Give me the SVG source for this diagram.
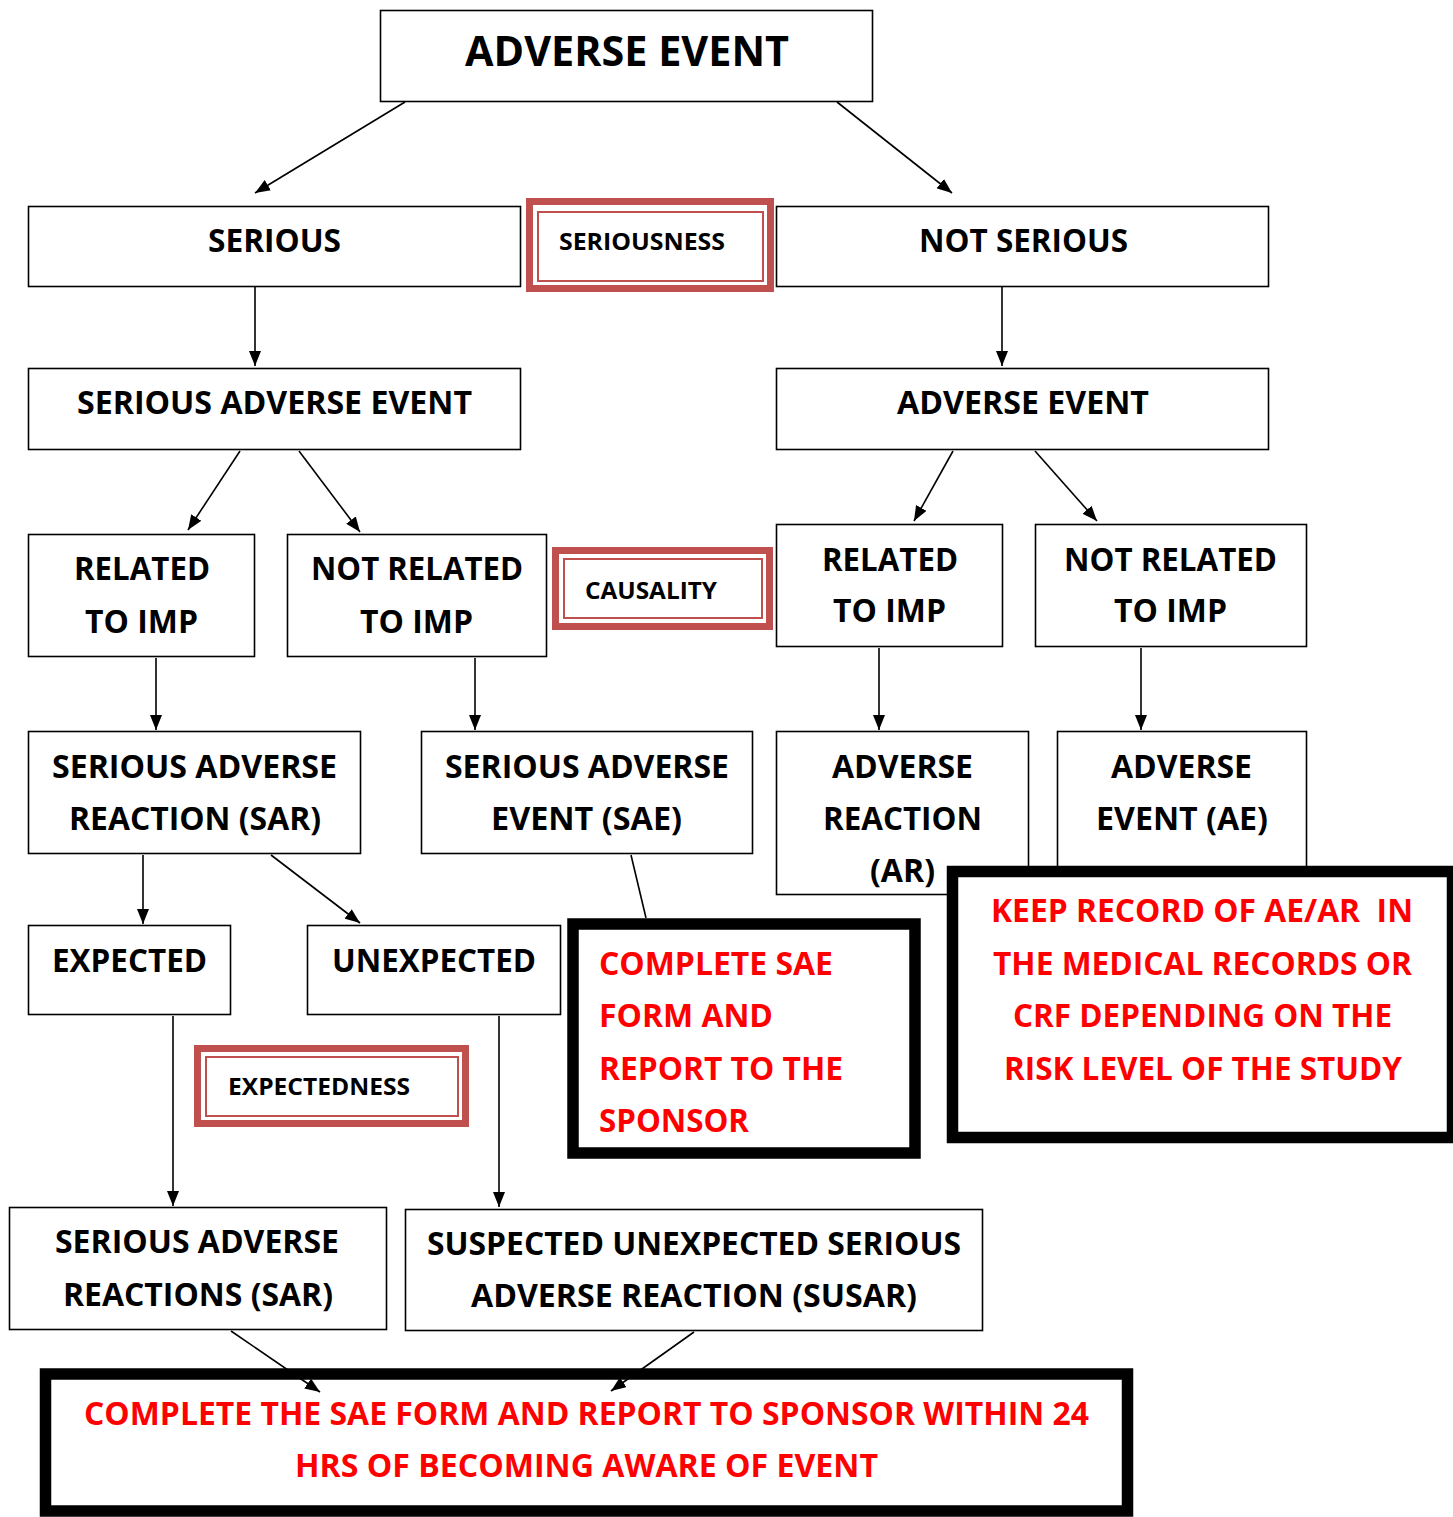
<svg xmlns="http://www.w3.org/2000/svg" width="1453" height="1517" viewBox="0 0 1453 1517">
<style>
.box{fill:#fff;stroke:#000;stroke-width:1.6}
.thick{fill:#fff;stroke:#000;stroke-width:11.5}
.rb{fill:#fff;stroke:#c0504d;stroke-width:7}
.rt{fill:none;stroke:#c0504d;stroke-width:2}
.t{font-family:"Open Sans","Liberation Sans",sans-serif;font-weight:700;font-size:32px;fill:#000}
.s{font-size:24px}
.r{fill:#ff0000}
.c{stroke:#000;stroke-width:1.6;fill:none}
</style>
<defs>
<marker id="ah" markerUnits="userSpaceOnUse" markerWidth="15" markerHeight="12" refX="15" refY="6" orient="auto">
<path d="M0,0 L15,6 L0,12 z" fill="#000"/>
</marker>
</defs>
<rect width="1453" height="1517" fill="#fff"/>

<g id="n-top">
<rect class="box" x="380.5" y="10.5" width="492" height="91"/>
<text class="t" x="465" y="66" style="font-size:42px" textLength="324" lengthAdjust="spacingAndGlyphs">ADVERSE EVENT</text>
</g>
<g id="n-serious">
<rect class="box" x="28.5" y="206.5" width="492" height="80"/>
<text class="t" x="208" y="252" textLength="133" lengthAdjust="spacingAndGlyphs">SERIOUS</text>
</g>
<g id="n-seriousness">
<rect class="rb" x="529.5" y="201.5" width="241" height="87"/>
<rect class="rt" x="538" y="212" width="225" height="69"/>
<text class="t s" x="559" y="250" textLength="166" lengthAdjust="spacingAndGlyphs">SERIOUSNESS</text>
</g>
<g id="n-notserious">
<rect class="box" x="776.5" y="206.5" width="492" height="80"/>
<text class="t" x="919" y="252" textLength="209" lengthAdjust="spacingAndGlyphs">NOT SERIOUS</text>
</g>
<g id="n-sae">
<rect class="box" x="28.5" y="368.5" width="492" height="81"/>
<text class="t" x="77" y="414" textLength="395" lengthAdjust="spacingAndGlyphs">SERIOUS ADVERSE EVENT</text>
</g>
<g id="n-ae">
<rect class="box" x="776.5" y="368.5" width="492" height="81"/>
<text class="t" x="897" y="414" textLength="252" lengthAdjust="spacingAndGlyphs">ADVERSE EVENT</text>
</g>
<g id="n-rel-l">
<rect class="box" x="28.5" y="534.5" width="226" height="122"/>
<text class="t" x="74" y="580" textLength="136" lengthAdjust="spacingAndGlyphs">RELATED</text>
<text class="t" x="85" y="633" textLength="113" lengthAdjust="spacingAndGlyphs">TO IMP</text>
</g>
<g id="n-notrel-l">
<rect class="box" x="287.5" y="534.5" width="259" height="122"/>
<text class="t" x="311" y="580" textLength="212" lengthAdjust="spacingAndGlyphs">NOT RELATED</text>
<text class="t" x="360" y="633" textLength="113" lengthAdjust="spacingAndGlyphs">TO IMP</text>
</g>
<g id="n-causality">
<rect class="rb" x="555.5" y="550.5" width="214" height="76"/>
<rect class="rt" x="564" y="559" width="198" height="59"/>
<text class="t s" x="585" y="599" textLength="132" lengthAdjust="spacingAndGlyphs">CAUSALITY</text>
</g>
<g id="n-rel-r">
<rect class="box" x="776.5" y="524.5" width="226" height="122"/>
<text class="t" x="822" y="571" textLength="136" lengthAdjust="spacingAndGlyphs">RELATED</text>
<text class="t" x="833" y="622" textLength="113" lengthAdjust="spacingAndGlyphs">TO IMP</text>
</g>
<g id="n-notrel-r">
<rect class="box" x="1035.5" y="524.5" width="271" height="122"/>
<text class="t" x="1064" y="571" textLength="213" lengthAdjust="spacingAndGlyphs">NOT RELATED</text>
<text class="t" x="1114" y="622" textLength="113" lengthAdjust="spacingAndGlyphs">TO IMP</text>
</g>
<g id="n-sar">
<rect class="box" x="28.5" y="731.5" width="332" height="122"/>
<text class="t" x="52" y="778" textLength="285" lengthAdjust="spacingAndGlyphs">SERIOUS ADVERSE</text>
<text class="t" x="69" y="830" textLength="252" lengthAdjust="spacingAndGlyphs">REACTION (SAR)</text>
</g>
<g id="n-sae2">
<rect class="box" x="421.5" y="731.5" width="331" height="122"/>
<text class="t" x="445" y="778" textLength="284" lengthAdjust="spacingAndGlyphs">SERIOUS ADVERSE</text>
<text class="t" x="491" y="830" textLength="191" lengthAdjust="spacingAndGlyphs">EVENT (SAE)</text>
</g>
<g id="n-ar">
<rect class="box" x="776.5" y="731.5" width="252" height="163"/>
<text class="t" x="832" y="778" textLength="141" lengthAdjust="spacingAndGlyphs">ADVERSE</text>
<text class="t" x="823" y="830" textLength="159" lengthAdjust="spacingAndGlyphs">REACTION</text>
<text class="t" x="870" y="882" textLength="65" lengthAdjust="spacingAndGlyphs">(AR)</text>
</g>
<g id="n-ae2">
<rect class="box" x="1057.5" y="731.5" width="249" height="150"/>
<text class="t" x="1111" y="778" textLength="141" lengthAdjust="spacingAndGlyphs">ADVERSE</text>
<text class="t" x="1096" y="830" textLength="172" lengthAdjust="spacingAndGlyphs">EVENT (AE)</text>
</g>
<g id="n-keep">
<rect class="thick" x="952.5" y="871.5" width="500" height="266"/>
<text class="t r" x="991" y="922" textLength="422" lengthAdjust="spacingAndGlyphs" style="white-space:pre">KEEP RECORD OF AE/AR  IN</text>
<text class="t r" x="993" y="975" textLength="419" lengthAdjust="spacingAndGlyphs">THE MEDICAL RECORDS OR</text>
<text class="t r" x="1013" y="1027" textLength="379" lengthAdjust="spacingAndGlyphs">CRF DEPENDING ON THE</text>
<text class="t r" x="1004" y="1080" textLength="398" lengthAdjust="spacingAndGlyphs">RISK LEVEL OF THE STUDY</text>
</g>
<g id="n-expected">
<rect class="box" x="28.5" y="925.5" width="202" height="89"/>
<text class="t" x="52" y="972" textLength="155" lengthAdjust="spacingAndGlyphs">EXPECTED</text>
</g>
<g id="n-unexpected">
<rect class="box" x="307.5" y="925.5" width="253" height="89"/>
<text class="t" x="332" y="972" textLength="204" lengthAdjust="spacingAndGlyphs">UNEXPECTED</text>
</g>
<g id="n-expectedness">
<rect class="rb" x="197.5" y="1048.5" width="268" height="75"/>
<rect class="rt" x="206" y="1057" width="252" height="59"/>
<text class="t s" x="228" y="1095" textLength="182" lengthAdjust="spacingAndGlyphs">EXPECTEDNESS</text>
</g>
<g id="n-complete-sae">
<rect class="thick" x="573" y="924" width="342" height="229"/>
<text class="t r" x="599" y="975" textLength="234" lengthAdjust="spacingAndGlyphs">COMPLETE SAE</text>
<text class="t r" x="599" y="1027" textLength="174" lengthAdjust="spacingAndGlyphs">FORM AND</text>
<text class="t r" x="599" y="1080" textLength="244" lengthAdjust="spacingAndGlyphs">REPORT TO THE</text>
<text class="t r" x="599" y="1132" textLength="150" lengthAdjust="spacingAndGlyphs">SPONSOR</text>
</g>
<g id="n-sar2">
<rect class="box" x="9.5" y="1207.5" width="377" height="122"/>
<text class="t" x="55" y="1253" textLength="284" lengthAdjust="spacingAndGlyphs">SERIOUS ADVERSE</text>
<text class="t" x="63" y="1306" textLength="270" lengthAdjust="spacingAndGlyphs">REACTIONS (SAR)</text>
</g>
<g id="n-susar">
<rect class="box" x="405.5" y="1209.5" width="577" height="121"/>
<text class="t" x="427" y="1255" textLength="534" lengthAdjust="spacingAndGlyphs">SUSPECTED UNEXPECTED SERIOUS</text>
<text class="t" x="471" y="1307" textLength="446" lengthAdjust="spacingAndGlyphs">ADVERSE REACTION (SUSAR)</text>
</g>
<g id="n-final">
<rect class="thick" x="45.5" y="1374" width="1082" height="137"/>
<text class="t r" x="84" y="1425" textLength="1005" lengthAdjust="spacingAndGlyphs">COMPLETE THE SAE FORM AND REPORT TO SPONSOR WITHIN 24</text>
<text class="t r" x="295" y="1477" textLength="583" lengthAdjust="spacingAndGlyphs">HRS OF BECOMING AWARE OF EVENT</text>
</g>

<g id="connectors">
<line class="c" x1="405" y1="102" x2="255" y2="193" marker-end="url(#ah)"/>
<line class="c" x1="837" y1="102" x2="952" y2="193" marker-end="url(#ah)"/>
<line class="c" x1="255" y1="287" x2="255" y2="366" marker-end="url(#ah)"/>
<line class="c" x1="1002" y1="287" x2="1002" y2="366" marker-end="url(#ah)"/>
<line class="c" x1="240" y1="451" x2="188" y2="530" marker-end="url(#ah)"/>
<line class="c" x1="299" y1="451" x2="360" y2="532" marker-end="url(#ah)"/>
<line class="c" x1="953" y1="451" x2="914" y2="521" marker-end="url(#ah)"/>
<line class="c" x1="1035" y1="451" x2="1097" y2="521" marker-end="url(#ah)"/>
<line class="c" x1="156" y1="658" x2="156" y2="730" marker-end="url(#ah)"/>
<line class="c" x1="475" y1="658" x2="475" y2="730" marker-end="url(#ah)"/>
<line class="c" x1="879" y1="648" x2="879" y2="730" marker-end="url(#ah)"/>
<line class="c" x1="1141" y1="648" x2="1141" y2="730" marker-end="url(#ah)"/>
<line class="c" x1="143" y1="855" x2="143" y2="924" marker-end="url(#ah)"/>
<line class="c" x1="271" y1="855" x2="360" y2="923" marker-end="url(#ah)"/>
<line class="c" x1="631" y1="855" x2="646" y2="918"/>
<line class="c" x1="173" y1="1016" x2="173" y2="1206" marker-end="url(#ah)"/>
<line class="c" x1="499" y1="1016" x2="499" y2="1207" marker-end="url(#ah)"/>
<line class="c" x1="231" y1="1331" x2="320" y2="1392" marker-end="url(#ah)"/>
<line class="c" x1="694" y1="1332" x2="611" y2="1391" marker-end="url(#ah)"/>
</g>
</svg>
